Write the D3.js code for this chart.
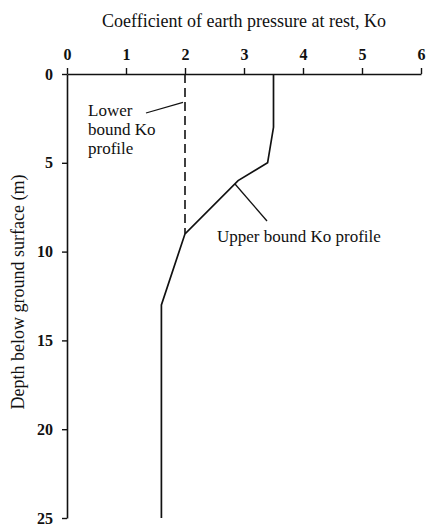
<!DOCTYPE html>
<html>
<head>
<meta charset="utf-8">
<script src="https://cdn.jsdelivr.net/npm/d3@7"></script>
<style>
  body { margin: 0; background: #fff; }
  svg { display: block; }
  text { font-family: "Liberation Serif", "Times New Roman", serif; fill: #111; }
</style>
</head>
<body>
<svg id="chart" width="428" height="524"></svg>
<script>
// K0 ticks (top axis) and depth ticks (left axis)
const koTicks = [0, 1, 2, 3, 4, 5, 6];
const depthTicks = [0, 5, 10, 15, 20, 25];

// Upper bound K0 profile: [K0, depth (m)]
const upperKo = [3.5, 3.5, 3.4, 2.9, 2.0, 1.6, 1.6];
const upperDepth = [0, 3, 5, 6, 9, 13, 25];

// Lower bound K0 profile
const lowerKo = [2.0, 2.0];
const lowerDepth = [0, 9];

const svg = d3.select("#chart");
const x = d3.scaleLinear().domain([0, 6]).range([67, 421]);
const y = d3.scaleLinear().domain([0, 25]).range([74, 518]);

// Top axis
const xAxis = d3.axisTop(x).tickValues(koTicks).tickFormat(d3.format("d"))
  .tickSize(6).tickPadding(8).tickSizeOuter(0);
const gx = svg.append("g").attr("transform", `translate(0,${y(0)})`).call(xAxis);
gx.select(".domain").attr("stroke", "#111").attr("stroke-width", 1.6);
gx.selectAll(".tick line").attr("stroke", "#111").attr("stroke-width", 1.4);
gx.selectAll(".tick text").style("font-size", "16px").style("font-weight", "bold").attr("fill", "#111");

// Left axis
const yAxis = d3.axisLeft(y).tickValues(depthTicks).tickFormat(d3.format("d"))
  .tickSize(5).tickPadding(9).tickSizeOuter(0);
const gy = svg.append("g").attr("transform", `translate(${x(0)},0)`).call(yAxis);
gy.select(".domain").attr("stroke", "#111").attr("stroke-width", 1.6);
gy.selectAll(".tick line").attr("stroke", "#111").attr("stroke-width", 1.4);
gy.selectAll(".tick text").style("font-size", "16px").style("font-weight", "bold").attr("fill", "#111");

// Axis titles
svg.append("text")
  .attr("x", 244).attr("y", 27)
  .attr("text-anchor", "middle")
  .style("font-size", "18px")
  .text("Coefficient of earth pressure at rest, Ko");

svg.append("text")
  .attr("transform", `translate(24,292) rotate(-90)`)
  .attr("text-anchor", "middle")
  .style("font-size", "18px")
  .text("Depth below ground surface (m)");

const line = d3.line().x(d => x(d[0])).y(d => y(d[1]));

// Lower bound (dashed)
svg.append("path")
  .datum(lowerKo.map((k, i) => [k, lowerDepth[i]]))
  .attr("d", line)
  .attr("fill", "none")
  .attr("stroke", "#111")
  .attr("stroke-width", 1.6)
  .attr("stroke-dasharray", "9,5");

// Upper bound (solid)
svg.append("path")
  .datum(upperKo.map((k, i) => [k, upperDepth[i]]))
  .attr("d", line)
  .attr("fill", "none")
  .attr("stroke", "#111")
  .attr("stroke-width", 1.7);

// Annotation: lower bound
const lowerLabel = svg.append("text")
  .attr("x", 88).attr("y", 116)
  .style("font-size", "17px");
["Lower", "bound Ko", "profile"].forEach((t, i) => {
  lowerLabel.append("tspan").attr("x", 88).attr("dy", i === 0 ? 0 : 19).text(t);
});
svg.append("line")
  .attr("x1", 146).attr("y1", 113)
  .attr("x2", x(2) - 2).attr("y2", y(1.6))
  .attr("stroke", "#111").attr("stroke-width", 1.3);

// Annotation: upper bound
svg.append("text")
  .attr("x", 217).attr("y", 242)
  .style("font-size", "17px")
  .text("Upper bound Ko profile");
svg.append("line")
  .attr("x1", 235).attr("y1", 184)
  .attr("x2", 267).attr("y2", 221)
  .attr("stroke", "#111").attr("stroke-width", 1.3);
</script>
</body>
</html>
